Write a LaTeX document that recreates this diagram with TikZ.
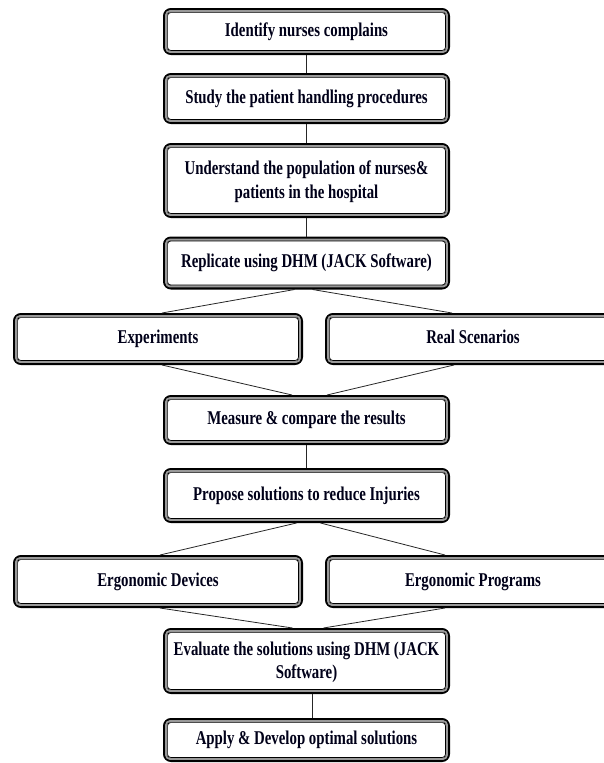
\documentclass[tikz,border=0pt]{standalone}
\usepackage{fontspec}
\setmainfont{Liberation Serif}[FakeStretch=0.76]
\usetikzlibrary{calc}
\tikzset{
  box/.style={draw=black, line width=4pt, rounded corners=6pt, fill=white,
    align=center, inner sep=0pt, font=\bfseries\fontsize{19.5}{23.5}\selectfont,
    text=black!90!blue},
  one/.style={text height=13.5pt, text depth=4pt},
  conn/.style={draw=black!85, line width=0.8pt},
  ringg/.style={draw=black!40, line width=1.8pt, rounded corners=4pt},
  ringb/.style={draw=black, line width=0.7pt, rounded corners=3pt}
}
\begin{document}
\begin{tikzpicture}[x=1pt,y=-1pt]
\useasboundingbox (0,0) rectangle (604,763);
\clip (0,0) rectangle (604,763);
\node[box, one, minimum width=283pt, minimum height=43pt] (idn) at (306.5,31.5) {Identify nurses complains};
\node[box, one, minimum width=283pt, minimum height=47pt] (std) at (306.5,98.5) {Study the patient handling procedures};
\node[box, minimum width=283pt, minimum height=71pt, text depth=2pt] (und) at (306.5,180.5) {Understand the population of nurses\&\\patients in the hospital};
\node[box, one, minimum width=283pt, minimum height=49pt] (rep) at (306.5,263) {Replicate using DHM (JACK Software)};
\node[box, one, minimum width=286pt, minimum height=48pt] (exp) at (158,339) {Experiments};
\node[box, one, minimum width=292pt, minimum height=48pt] (rea) at (473,339) {Real Scenarios};
\node[box, one, minimum width=283pt, minimum height=46pt] (mea) at (306.5,420) {Measure \& compare the results};
\node[box, one, minimum width=283pt, minimum height=51pt] (pro) at (306.5,495.5) {Propose solutions to reduce Injuries};
\node[box, one, minimum width=286pt, minimum height=49pt] (dev) at (158,581.5) {Ergonomic Devices};
\node[box, one, minimum width=292pt, minimum height=49pt] (prg) at (473,581.5) {Ergonomic Programs};
\node[box, minimum width=283pt, minimum height=62pt, text depth=2pt] (eva) at (306.5,661) {Evaluate the solutions using DHM (JACK\\Software)};
\node[box, one, minimum width=283pt, minimum height=40pt] (app) at (306.5,740) {Apply \& Develop optimal solutions};
\foreach \n in {idn,std,und,rep,exp,rea,mea,pro,dev,prg,eva,app}{
  \draw[ringg] ([shift={(3pt,3pt)}]\n.south west) rectangle ([shift={(-3pt,-3pt)}]\n.north east);
  \draw[ringb] ([shift={(4.6pt,4.6pt)}]\n.south west) rectangle ([shift={(-4.6pt,-4.6pt)}]\n.north east);
}
\draw[conn] (idn.south) -- (std.north);
\draw[conn] (std.south) -- (und.north);
\draw[conn] (und.south) -- (rep.north);
\draw[conn] ([xshift=-12pt]rep.south) -- ([xshift=4pt]exp.north);
\draw[conn] ([xshift=6pt]rep.south) -- ([xshift=-21pt]rea.north);
\draw[conn] ([xshift=4pt]exp.south) -- ([xshift=-14.5pt]mea.north);
\draw[conn] ([xshift=-19pt]rea.south) -- ([xshift=20.5pt]mea.north);
\draw[conn] (mea.south) -- (pro.north);
\draw[conn] ([xshift=-10pt]pro.south) -- ([xshift=2pt]dev.north);
\draw[conn] ([xshift=14pt]pro.south) -- ([xshift=-28pt]prg.north);
\draw[conn] ([xshift=2pt]dev.south) -- ([xshift=-14pt]eva.north);
\draw[conn] ([xshift=-28pt]prg.south) -- ([xshift=17pt]eva.north);
\draw[conn] ([xshift=6pt]eva.south) -- ([xshift=6pt]app.north);
\end{tikzpicture}
\end{document}
